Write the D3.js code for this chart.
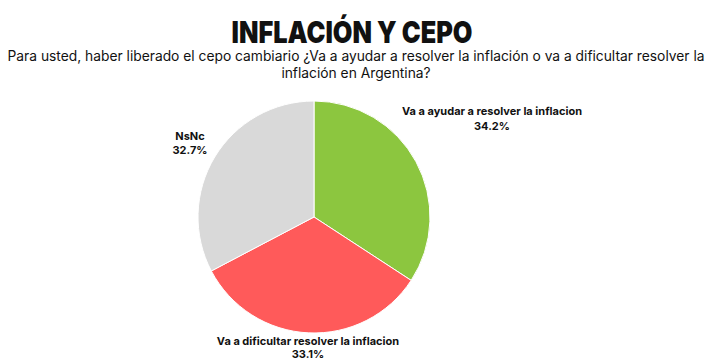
<!DOCTYPE html>
<html><head><meta charset="utf-8">
<script src="https://cdn.jsdelivr.net/npm/d3@7"></script>
<style>body{margin:0;background:#fff}</style>
</head><body>
<svg id="c" width="713" height="361"></svg>
<script>
const categories = ["Va a ayudar a resolver la inflacion", "Va a dificultar resolver la inflacion", "NsNc"];
const values = [34.2, 33.1, 32.7];
const colors = ["#8CC63F", "#FF5A5A", "#D9D9D9"];
const titleText = "INFLACIÓN Y CEPO";
const subtitleLines = ["Para usted, haber liberado el cepo cambiario ¿Va a ayudar a resolver la inflación o va a dificultar resolver la", "inflación en Argentina?"];

const svg = d3.select("#c");
const font = "Inter, 'Open Sans', sans-serif";
svg.append("text").attr("x", 352).attr("y", 43).attr("text-anchor", "middle")
  .attr("font-family", font).attr("font-weight", 900).attr("font-size", 30).attr("fill", "#111")
  .attr("textLength", 241).attr("lengthAdjust", "spacingAndGlyphs")
  .text(titleText);
subtitleLines.forEach((t, i) => {
  svg.append("text").attr("x", 356).attr("y", 61 + i * 17).attr("text-anchor", "middle")
    .attr("font-family", font).attr("font-size", 13.8).attr("fill", "#111").text(t);
});

const cx = 314, cy = 217, r = 116;
const pie = d3.pie().sort(null).value(d => d)(values);
const arc = d3.arc().innerRadius(0).outerRadius(r);
const g = svg.append("g").attr("transform", `translate(${cx},${cy})`);
g.selectAll("path").data(pie).join("path")
  .attr("d", arc).attr("fill", (d, i) => colors[i])
  .attr("stroke", "#fff").attr("stroke-width", 1);

const labelPos = [[492, 115, 15], [308, 345, 13], [190, 140, 14]];
pie.forEach((d, i) => {
  const t = svg.append("text").attr("text-anchor", "middle")
    .attr("font-family", font).attr("font-weight", 700).attr("font-size", 11).attr("fill", "#111");
  t.append("tspan").attr("x", labelPos[i][0]).attr("y", labelPos[i][1]).text(categories[i]);
  t.append("tspan").attr("x", labelPos[i][0]).attr("y", labelPos[i][1] + labelPos[i][2]).text(values[i].toFixed(1) + "%");
});
</script>
</body></html>
